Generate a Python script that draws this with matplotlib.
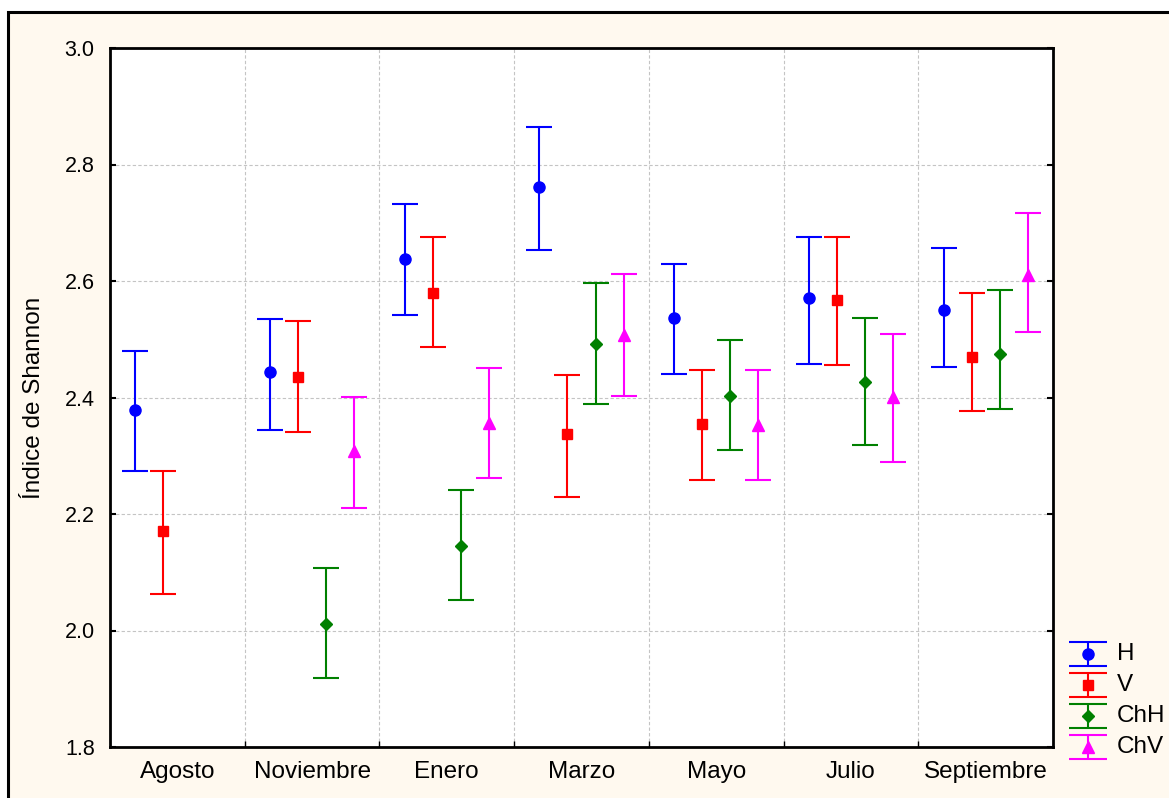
import matplotlib

matplotlib.use("Agg")
import matplotlib.pyplot as plt
import numpy as np
from matplotlib.patches import Rectangle

plt.rcParams["font.family"] = ["Liberation Sans", "DejaVu Sans"]

# ---- data ----
MONTHS = ["Agosto", "Noviembre", "Enero", "Marzo", "Mayo", "Julio", "Septiembre"]
SERIES = ["H", "V", "ChH", "ChV"]
COLORS = ["#0000ff", "#ff0000", "#008000", "#ff00ff"]
MARKERS = ["o", "s", "D", "^"]
MSIZES = [8, 7.5, 6.5, 8.5]

# mean, lower, upper per month (nan = no sample)
H_MEAN = [2.379, 2.444, 2.638, 2.762, 2.536, 2.571, 2.550]
H_LO = [2.273, 2.345, 2.542, 2.654, 2.441, 2.458, 2.453]
H_HI = [2.480, 2.535, 2.732, 2.864, 2.630, 2.676, 2.657]

V_MEAN = [2.170, 2.436, 2.580, 2.337, 2.354, 2.567, 2.470]
V_LO = [2.063, 2.341, 2.486, 2.230, 2.258, 2.456, 2.376]
V_HI = [2.273, 2.531, 2.675, 2.439, 2.447, 2.675, 2.580]

CHH_MEAN = [np.nan, 2.011, 2.145, 2.492, 2.402, 2.427, 2.474]
CHH_LO = [np.nan, 1.918, 2.052, 2.388, 2.310, 2.318, 2.380]
CHH_HI = [np.nan, 2.108, 2.242, 2.597, 2.499, 2.537, 2.584]

CHV_MEAN = [np.nan, 2.308, 2.356, 2.507, 2.353, 2.401, 2.611]
CHV_LO = [np.nan, 2.211, 2.261, 2.403, 2.258, 2.290, 2.513]
CHV_HI = [np.nan, 2.401, 2.451, 2.612, 2.447, 2.509, 2.717]

MEANS = [H_MEAN, V_MEAN, CHH_MEAN, CHV_MEAN]
LOWS = [H_LO, V_LO, CHH_LO, CHV_LO]
HIGHS = [H_HI, V_HI, CHH_HI, CHV_HI]
OFFSETS = [-0.312, -0.104, 0.104, 0.312]

W, H = 1169, 798
BG = "#fff9ef"
FS = 15.5       # y tick labels
FS_TXT = 17.5   # category labels, axis title, legend

fig = plt.figure(figsize=(W / 100, H / 100), dpi=100, facecolor="white")
# cream panel with black frame (runs off the right/bottom edges)
fig.add_artist(Rectangle((8 / W, -0.05), 1.2, 1 - 12 / H + 0.05, transform=fig.transFigure,
                         facecolor=BG, edgecolor="black", lw=2.2, zorder=0))

ax = fig.add_axes([110 / W, 1 - 747 / H, (1053 - 110) / W, (747 - 48) / H])
ax.set_facecolor("white")
x = np.arange(len(MONTHS))
for i, name in enumerate(SERIES):
    m = np.array(MEANS[i], dtype=float)
    lo = np.array(LOWS[i], dtype=float)
    hi = np.array(HIGHS[i], dtype=float)
    ok = ~np.isnan(m)
    ax.errorbar(x[ok] + OFFSETS[i], m[ok], yerr=[m[ok] - lo[ok], hi[ok] - m[ok]],
                fmt=MARKERS[i], color=COLORS[i], ms=MSIZES[i], elinewidth=1.5,
                capsize=9.7, capthick=1.5, zorder=3)

ax.set_xlim(-0.5, len(MONTHS) - 0.5)
ax.set_ylim(1.8, 3.0)
ax.set_yticks(np.arange(1.8, 3.01, 0.2))
ax.set_yticklabels([f"{v:.1f}" for v in np.arange(1.8, 3.01, 0.2)])
ax.set_xticks(x[:-1] + 0.5)
ax.set_xticklabels([])
ax.set_xticks(x, minor=True)
ax.set_xticklabels(MONTHS, minor=True)
ax.tick_params(axis="y", direction="in", length=4, width=1.5, right=True, pad=11, labelsize=FS)
ax.tick_params(axis="x", which="major", direction="in", length=4, width=1)
ax.tick_params(axis="x", which="minor", length=0, pad=10, labelsize=FS_TXT)
ax.grid(True, which="major", color="#c4c4c4", ls=(0, (3, 2)), lw=0.8)
ax.set_axisbelow(True)
for s in ax.spines.values():
    s.set_linewidth(2)
ax.set_ylabel("Índice de Shannon", fontsize=FS_TXT)
ax.yaxis.set_label_coords(-0.069, 0.5)

# legend drawn at the lower right, outside the plot
lax = fig.add_axes([1060 / W, 1 - 775 / H, 109 / W, 145 / H])
lax.set_xlim(0, 109)
lax.set_ylim(145, 0)
lax.axis("off")
for i, name in enumerate(SERIES):
    yc = 24 + 31 * i
    lax.errorbar([28], [yc], yerr=11.7, fmt=MARKERS[i], color=COLORS[i], ms=MSIZES[i],
                 elinewidth=1.5, capsize=13.7, capthick=1.5, clip_on=False)
    lax.text(57, yc, name, fontsize=FS_TXT, va="center", ha="left")

fig.savefig("out.png", dpi=100, facecolor="white")
